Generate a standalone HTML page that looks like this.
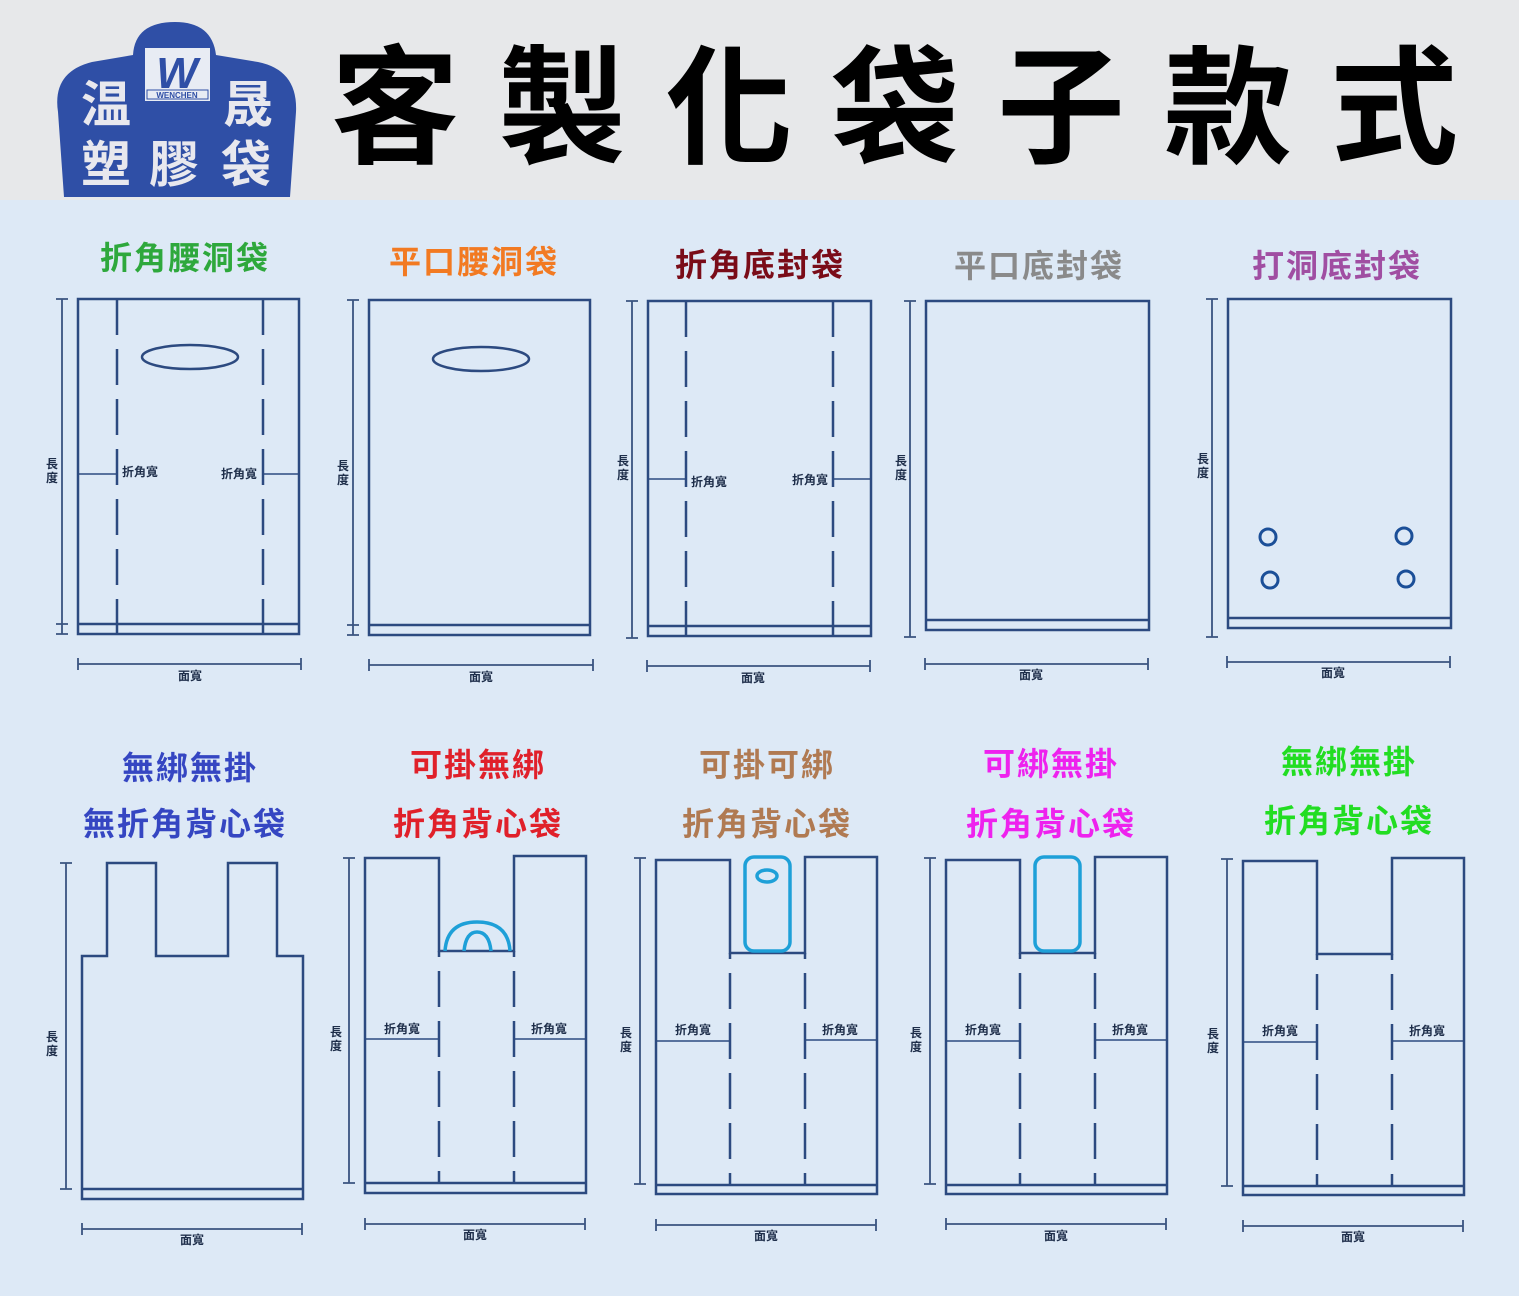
<!DOCTYPE html>
<html><head><meta charset="utf-8">
<style>
html,body{margin:0;padding:0;background:#dde9f6;}
svg{display:block;}
text{font-family:"Liberation Sans","Noto Sans CJK TC",sans-serif;}
</style></head><body>
<svg width="1519" height="1296" viewBox="0 0 1519 1296" xmlns="http://www.w3.org/2000/svg">
<rect x="0" y="0" width="1519" height="1296" fill="#dde9f6"/>
<rect x="0" y="0" width="1519" height="200" fill="#e7e8ea"/>
<!-- logo -->
<path d="M64,197 L58,112 Q52,72 92,62 L133,55 Q135,22 175,22 Q212,22 216,55 L258,62 Q298,70 296,112 L290,197 Z" fill="#2f4fa6"/>
<rect x="145" y="48" width="65" height="53" fill="#e8ecf4"/>
<rect x="147" y="90" width="61" height="9" fill="none" stroke="#2f4fa6" stroke-width="1"/>
<text x="177" y="98" font-size="8" font-family="Liberation Serif,serif" font-weight="bold" fill="#2f4fa6" text-anchor="middle">WENCHEN</text>
<text x="177" y="88" font-size="44" font-family="Liberation Serif,serif" font-weight="bold" font-style="italic" fill="#2f4fa6" text-anchor="middle">W</text>
<g font-family="'Noto Serif CJK SC','Liberation Serif',serif" font-weight="bold" fill="#e8e8ee" font-size="50" text-anchor="middle">
<text x="106" y="122">温</text><text x="248" y="122">晟</text>
<text x="106" y="182">塑</text><text x="174" y="182">膠</text><text x="246" y="182">袋</text>
</g>
<!-- big title -->
<g font-size="128" font-weight="bold" fill="#000" text-anchor="middle">
<text x="395" y="153">客</text><text x="562" y="153">製</text><text x="729" y="153">化</text><text x="895" y="153">袋</text><text x="1061" y="153">子</text><text x="1228" y="153">款</text><text x="1394" y="153">式</text>
</g>
<!-- titles -->
<g font-size="32" font-weight="bold" text-anchor="middle" letter-spacing="2">
<text x="185" y="269" fill="#2ea83c">折角腰洞袋</text>
<text x="474" y="273" fill="#f27a22">平口腰洞袋</text>
<text x="760" y="276" fill="#7a0c18">折角底封袋</text>
<text x="1039" y="277" fill="#8a8a8a">平口底封袋</text>
<text x="1337" y="277" fill="#a04ea2">打洞底封袋</text>
<text x="190" y="779" fill="#3546c2">無綁無掛</text>
<text x="185" y="835" fill="#3546c2">無折角背心袋</text>
<text x="478" y="776" fill="#e0202a">可掛無綁</text>
<text x="478" y="835" fill="#e0202a">折角背心袋</text>
<text x="767" y="776" fill="#b07a52">可掛可綁</text>
<text x="767" y="835" fill="#b07a52">折角背心袋</text>
<text x="1051" y="775" fill="#ee22ee">可綁無掛</text>
<text x="1051" y="835" fill="#ee22ee">折角背心袋</text>
<text x="1349" y="773" fill="#22dd22">無綁無掛</text>
<text x="1349" y="832" fill="#22dd22">折角背心袋</text>
</g>
<g fill="none" stroke="#2c4a80" stroke-width="2.5">
<!-- bag1 -->
<rect x="78" y="299" width="221" height="335"/><line x1="78" y1="624" x2="299" y2="624"/>
<line x1="117" y1="299" x2="117" y2="634" stroke-dasharray="36,14"/><line x1="263" y1="299" x2="263" y2="634" stroke-dasharray="36,14"/>
<line x1="78" y1="474" x2="117" y2="474" stroke-width="1.5"/><line x1="263" y1="474" x2="299" y2="474" stroke-width="1.5"/>
<!-- bag2 -->
<rect x="369" y="300" width="221" height="335"/><line x1="369" y1="625" x2="590" y2="625"/>
<!-- bag3 -->
<rect x="648" y="301" width="223" height="335"/><line x1="648" y1="626" x2="871" y2="626"/>
<line x1="686" y1="301" x2="686" y2="636" stroke-dasharray="36,14"/><line x1="833" y1="301" x2="833" y2="636" stroke-dasharray="36,14"/>
<line x1="648" y1="479" x2="686" y2="479" stroke-width="1.5"/><line x1="833" y1="479" x2="871" y2="479" stroke-width="1.5"/>
<!-- bag4 -->
<rect x="926" y="301" width="223" height="329"/><line x1="926" y1="620" x2="1149" y2="620"/>
<!-- bag5 -->
<rect x="1228" y="299" width="223" height="329"/><line x1="1228" y1="618" x2="1451" y2="618"/>
<!-- bag6 -->
<path d="M82,1199 L82,956 L107,956 L107,863 L156,863 L156,956 L228,956 L228,863 L277,863 L277,956 L303,956 L303,1199 Z"/><line x1="82" y1="1189" x2="303" y2="1189"/>
<!-- bag7 -->
<path d="M365,1193 L365,858 L439,858 L439,951 L514,951 L514,856 L586,856 L586,1193 Z"/><line x1="365" y1="1183" x2="586" y2="1183"/>
<line x1="439" y1="951" x2="439" y2="1183" stroke-dasharray="36,14" stroke-dashoffset="-20"/><line x1="514" y1="951" x2="514" y2="1183" stroke-dasharray="36,14" stroke-dashoffset="-20"/>
<line x1="365" y1="1039" x2="439" y2="1039" stroke-width="1.5"/><line x1="514" y1="1039" x2="586" y2="1039" stroke-width="1.5"/>
<!-- bag8 -->
<path d="M656,1194 L656,860 L730,860 L730,953 L805,953 L805,857 L877,857 L877,1194 Z"/><line x1="656" y1="1185" x2="877" y2="1185"/>
<line x1="730" y1="953" x2="730" y2="1185" stroke-dasharray="36,14" stroke-dashoffset="-20"/><line x1="805" y1="953" x2="805" y2="1185" stroke-dasharray="36,14" stroke-dashoffset="-20"/>
<line x1="656" y1="1041" x2="730" y2="1041" stroke-width="1.5"/><line x1="805" y1="1040" x2="877" y2="1040" stroke-width="1.5"/>
<!-- bag9 -->
<path d="M946,1194 L946,860 L1020,860 L1020,953 L1095,953 L1095,857 L1167,857 L1167,1194 Z"/><line x1="946" y1="1185" x2="1167" y2="1185"/>
<line x1="1020" y1="953" x2="1020" y2="1185" stroke-dasharray="36,14" stroke-dashoffset="-20"/><line x1="1095" y1="953" x2="1095" y2="1185" stroke-dasharray="36,14" stroke-dashoffset="-20"/>
<line x1="946" y1="1041" x2="1020" y2="1041" stroke-width="1.5"/><line x1="1095" y1="1040" x2="1167" y2="1040" stroke-width="1.5"/>
<!-- bag10 -->
<path d="M1243,1195 L1243,861 L1317,861 L1317,954 L1392,954 L1392,858 L1464,858 L1464,1195 Z"/><line x1="1243" y1="1186" x2="1464" y2="1186"/>
<line x1="1317" y1="954" x2="1317" y2="1186" stroke-dasharray="36,14" stroke-dashoffset="-20"/><line x1="1392" y1="954" x2="1392" y2="1186" stroke-dasharray="36,14" stroke-dashoffset="-20"/>
<line x1="1243" y1="1042" x2="1317" y2="1042" stroke-width="1.5"/><line x1="1392" y1="1041" x2="1464" y2="1041" stroke-width="1.5"/>
</g>
<!-- ovals & holes -->
<g fill="none" stroke="#2c4a80" stroke-width="2.5">
<ellipse cx="190" cy="357" rx="48" ry="12"/><ellipse cx="481" cy="359" rx="48" ry="12"/>
</g>
<g fill="none" stroke="#1b4f98" stroke-width="3">
<circle cx="1268" cy="537" r="8"/><circle cx="1404" cy="536" r="8"/><circle cx="1270" cy="580" r="8"/><circle cx="1406" cy="579" r="8"/>
</g>
<g fill="none" stroke="#1ea0d8" stroke-width="3.5">
<path d="M445,951 Q447,922 477,922 Q508,922 510,951"/>
<path d="M464,951 Q466,932 477,932 Q489,932 491,951"/>
<rect x="745" y="857" width="45" height="94" rx="9"/><ellipse cx="767" cy="876" rx="10" ry="6"/>
<rect x="1035" y="857" width="45" height="94" rx="9"/>
</g>
<!-- dimension lines -->
<g stroke="#3a5480" stroke-width="1.8" fill="none">
<path d="M62,299V634M56,299H68M56,634H68M56,624H68"/>
<path d="M353,300V635M347,300H359M347,635H359M347,625H359"/>
<path d="M632,301V638M626,301H638M626,638H638"/>
<path d="M910,301V637M904,301H916M904,637H916"/>
<path d="M1212,299V637M1206,299H1218M1206,637H1218"/>
<path d="M78,664H301M78,658V670M301,658V670"/>
<path d="M369,665H593M369,659V671M593,659V671"/>
<path d="M647,666H870M647,660V672M870,660V672"/>
<path d="M925,664H1148M925,658V670M1148,658V670"/>
<path d="M1227,662H1450M1227,656V668M1450,656V668"/>
<path d="M66,863V1189M60,863H72M60,1189H72"/>
<path d="M349,858V1183M343,858H355M343,1183H355"/>
<path d="M640,858V1184M634,858H646M634,1184H646"/>
<path d="M930,858V1184M924,858H936M924,1184H936"/>
<path d="M1227,859V1186M1221,859H1233M1221,1186H1233"/>
<path d="M82,1229H302M82,1223V1235M302,1223V1235"/>
<path d="M365,1224H585M365,1218V1230M585,1218V1230"/>
<path d="M656,1225H876M656,1219V1231M876,1219V1231"/>
<path d="M946,1224H1166M946,1218V1230M1166,1218V1230"/>
<path d="M1243,1226H1463M1243,1220V1232M1463,1220V1232"/>
</g>
<!-- small labels -->
<g font-size="12" font-weight="bold" fill="#1e2e4a" text-anchor="middle">
<text x="190" y="680">面寬</text><text x="481" y="681">面寬</text><text x="753" y="682">面寬</text><text x="1031" y="679">面寬</text><text x="1333" y="677">面寬</text>
<text x="192" y="1244">面寬</text><text x="475" y="1239">面寬</text><text x="766" y="1240">面寬</text><text x="1056" y="1240">面寬</text><text x="1353" y="1241">面寬</text>
<text x="52" y="468">長</text><text x="52" y="482">度</text>
<text x="343" y="470">長</text><text x="343" y="484">度</text>
<text x="623" y="465">長</text><text x="623" y="479">度</text>
<text x="901" y="465">長</text><text x="901" y="479">度</text>
<text x="1203" y="463">長</text><text x="1203" y="477">度</text>
<text x="52" y="1041">長</text><text x="52" y="1055">度</text>
<text x="336" y="1036">長</text><text x="336" y="1050">度</text>
<text x="626" y="1037">長</text><text x="626" y="1051">度</text>
<text x="916" y="1037">長</text><text x="916" y="1051">度</text>
<text x="1213" y="1038">長</text><text x="1213" y="1052">度</text>
<text x="140" y="476">折角寬</text><text x="239" y="478">折角寬</text>
<text x="709" y="486">折角寬</text><text x="810" y="484">折角寬</text>
<text x="402" y="1033">折角寬</text><text x="549" y="1033">折角寬</text>
<text x="693" y="1034">折角寬</text><text x="840" y="1034">折角寬</text>
<text x="983" y="1034">折角寬</text><text x="1130" y="1034">折角寬</text>
<text x="1280" y="1035">折角寬</text><text x="1427" y="1035">折角寬</text>
</g>
</svg>
</body></html>
